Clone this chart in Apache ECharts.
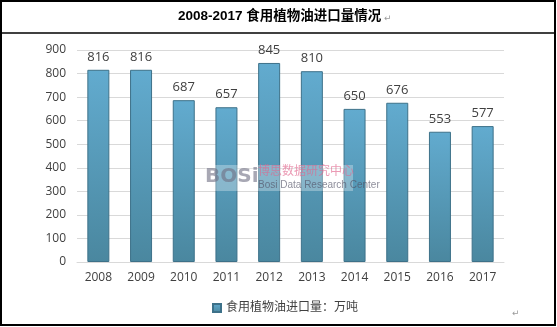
<!DOCTYPE html>
<html>
<head>
<meta charset="utf-8">
<script src="https://cdn.jsdelivr.net/npm/echarts@6/dist/echarts.min.js"></script>
<style>
html,body{margin:0;padding:0;background:#fff;}
#chart{width:557px;height:327px;}
</style>
</head>
<body>
<div id="chart"></div>
<script>
// Edible vegetable oil imports, 2008-2017 (10k tonnes)
const years = ['2008','2009','2010','2011','2012','2013','2014','2015','2016','2017'];
const imports = [816, 816, 687, 657, 845, 810, 650, 676, 553, 577];
const yTicks = {min: 0, max: 900, interval: 100};
const titleText = '2008-2017 食用植物油进口量情况';
const seriesName = '食用植物油进口量：万吨';

const chart = echarts.init(document.getElementById('chart'), null, {renderer: 'canvas'});
const font = '"Open Sans", "Noto Sans CJK SC", sans-serif';

chart.setOption({
  animation: false,
  backgroundColor: '#fff',
  grid: {left: 77, right: 53, top: 50, bottom: 65},
  legend: {
    data: [seriesName],
    left: 207, top: 297,
    itemWidth: 8, itemHeight: 8, itemGap: 4,
    icon: 'rect',
    textStyle: {color: '#404040', fontSize: 12, fontFamily: font}
  },
  xAxis: {
    type: 'category',
    data: years,
    axisLine: {lineStyle: {color: '#d9d9d9'}},
    axisTick: {show: false},
    axisLabel: {color: '#404040', fontSize: 12, fontFamily: font, margin: 10}
  },
  yAxis: {
    type: 'value',
    min: yTicks.min, max: yTicks.max, interval: yTicks.interval,
    axisLine: {show: false},
    axisTick: {show: false},
    splitLine: {lineStyle: {color: '#d9d9d9'}},
    axisLabel: {color: '#404040', fontSize: 12, fontFamily: font, margin: 11}
  },
  series: [{
    name: seriesName,
    type: 'bar',
    data: imports,
    barWidth: 22,
    itemStyle: {
      color: new echarts.graphic.LinearGradient(0, 0, 0, 1, [
        {offset: 0, color: '#62abcf'},
        {offset: 1, color: '#4a879f'}
      ]),
      borderColor: '#3d7189',
      borderWidth: 1
    },
    label: {
      show: true, position: 'top', distance: 6,
      color: '#404040', fontSize: 13, fontFamily: font
    }
  }],
  graphic: [
    // outer frame and title divider
    {type: 'rect', shape: {x: 1, y: 1, width: 554, height: 324},
     style: {fill: 'none', stroke: '#000', lineWidth: 2}, z: 100},
    {type: 'line', shape: {x1: 1, y1: 33, x2: 555, y2: 33},
     style: {stroke: '#000', lineWidth: 1.5}, z: 100},
    {type: 'text', left: 178, top: 10,
     style: {text: titleText, fill: '#000', font: 'bold 13.5px "Liberation Sans", "Noto Sans CJK SC", sans-serif'}},
    {type: 'text', left: 384, top: 14,
     style: {text: '↵', fill: '#9a9a9a', font: '9px "DejaVu Sans", sans-serif'}},
    {type: 'text', left: 512, top: 309,
     style: {text: '↵', fill: '#9a9a9a', font: '9px "DejaVu Sans", sans-serif'}},
    // watermark
    {type: 'rect', shape: {x: 205, y: 165, width: 148, height: 26}, z: 49,
     style: {fill: 'rgba(255,255,255,0.3)'}},
    {type: 'text', left: 205, top: 167, z: 50,
     style: {text: 'BOSi', fill: 'rgba(110,110,130,0.6)', font: 'bold 20px "DejaVu Sans", sans-serif'}},
    {type: 'text', left: 258, top: 164, z: 50,
     style: {text: '博思数据研究中心', fill: 'rgba(225,100,140,0.65)', font: '12px "Noto Sans CJK SC", sans-serif'}},
    {type: 'text', left: 258, top: 180, z: 50,
     style: {text: 'Bosi Data Research Center', fill: 'rgba(80,80,100,0.65)', font: '10px "Liberation Sans Narrow", "Liberation Sans", sans-serif'}}
  ]
});
</script>
</body>
</html>
